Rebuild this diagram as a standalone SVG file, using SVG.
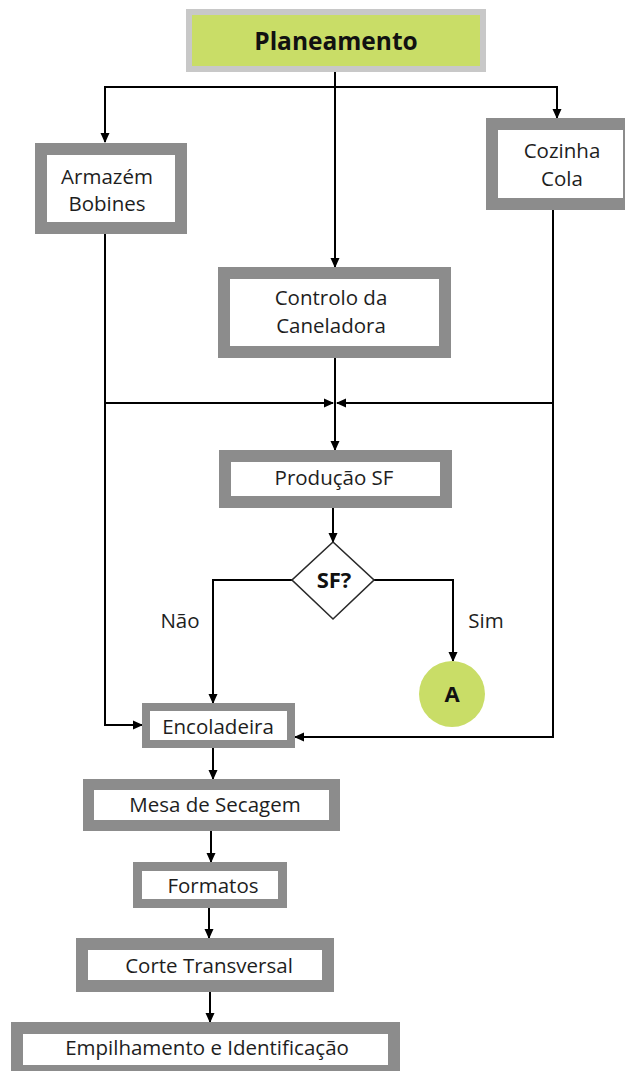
<svg xmlns="http://www.w3.org/2000/svg" width="625" height="1071" viewBox="0 0 625 1071">
  <style>
    .box { fill: #ffffff; stroke: #8c8c8c; }
    .lbl { font-family: "Open Sans", "Noto Sans", "Liberation Sans", sans-serif; font-size: 20.5px; fill: #1e1e1e; text-anchor: middle; }
    .bold { font-weight: bold; fill: #111111; }
    .title { font-size: 24.5px; }
    .mark { font-size: 22px; }
    .wire { fill: none; stroke: #000000; stroke-width: 2; }
  </style>
  <defs>
    <marker id="arrow" markerUnits="userSpaceOnUse" markerWidth="10" markerHeight="10" viewBox="0 0 10 10" refX="9" refY="5" orient="auto">
      <path d="M0,0.5 L10,5 L0,9.5 Z" fill="#000000"/>
    </marker>
  </defs>

  <rect width="625" height="1071" fill="#ffffff"/>

  <!-- connectors -->
  <g id="connectors" class="wire" marker-end="url(#arrow)">
    <path d="M335,72 V267"/>
    <path d="M335,87 H105 V142"/>
    <path d="M335,87 H557 V118"/>
    <path d="M105,234 V725 H142"/>
    <path d="M105,403 H333"/>
    <path d="M553,209 V737 H295"/>
    <path d="M553,403 H337"/>
    <path d="M335,358 V450"/>
    <path d="M333,508 V542"/>
    <path d="M292,580 H213 V703"/>
    <path d="M374,580 H453 V661"/>
    <path d="M213,748 V779"/>
    <path d="M211,831 V862"/>
    <path d="M209,908 V938"/>
    <path d="M210,992 V1022"/>
  </g>

  <!-- edge labels -->
  <g id="edge-labels">
    <text class="lbl" x="180" y="628">Não</text>
    <text class="lbl" x="486" y="628">Sim</text>
  </g>

  <g id="planeamento">
    <rect x="189" y="12" width="294" height="57" fill="#c9dd67" stroke="#c8c8c8" stroke-width="6"/>
    <text class="lbl bold title" x="336" y="50">Planeamento</text>
  </g>

  <g id="armazem">
    <rect class="box" x="41" y="149" width="140" height="79" stroke-width="12"/>
    <text class="lbl" x="107" y="184">Armazém</text>
    <text class="lbl" x="107" y="211">Bobines</text>
  </g>

  <g id="cozinha">
    <rect class="box" x="492" y="124" width="137" height="80" stroke-width="12"/>
    <text class="lbl" x="562" y="158">Cozinha</text>
    <text class="lbl" x="562" y="186">Cola</text>
  </g>

  <g id="controlo">
    <rect class="box" x="224" y="273" width="221" height="79" stroke-width="12"/>
    <text class="lbl" x="331" y="305">Controlo da</text>
    <text class="lbl" x="331" y="333">Caneladora</text>
  </g>

  <g id="producao">
    <rect class="box" x="225" y="456" width="221" height="46" stroke-width="12"/>
    <text class="lbl" x="334" y="485">Produção SF</text>
  </g>

  <g id="decisao">
    <polygon points="333,542 374,580 333,619 292,580" fill="#ffffff" stroke="#2a2a2a" stroke-width="1.6"/>
    <text class="lbl bold mark" x="334" y="588">SF?</text>
  </g>

  <g id="conector-a">
    <circle cx="452" cy="694" r="33" fill="#c9dd67"/>
    <text class="lbl bold mark" x="452" y="702">A</text>
  </g>

  <g id="encoladeira">
    <rect class="box" x="146" y="707" width="145" height="37" stroke-width="8"/>
    <text class="lbl" x="218" y="734">Encoladeira</text>
  </g>

  <g id="mesa">
    <rect class="box" x="88.5" y="784.5" width="246" height="41" stroke-width="11"/>
    <text class="lbl" x="215" y="812">Mesa de Secagem</text>
  </g>

  <g id="formatos">
    <rect class="box" x="137.5" y="866.5" width="145" height="37" stroke-width="9"/>
    <text class="lbl" x="213" y="893">Formatos</text>
  </g>

  <g id="corte">
    <rect class="box" x="82" y="944" width="246" height="42" stroke-width="12"/>
    <text class="lbl" x="209" y="973">Corte Transversal</text>
  </g>

  <g id="empilhamento">
    <rect class="box" x="17" y="1028" width="377" height="43" stroke-width="12"/>
    <text class="lbl" x="207" y="1055">Empilhamento e Identificação</text>
  </g>
</svg>
